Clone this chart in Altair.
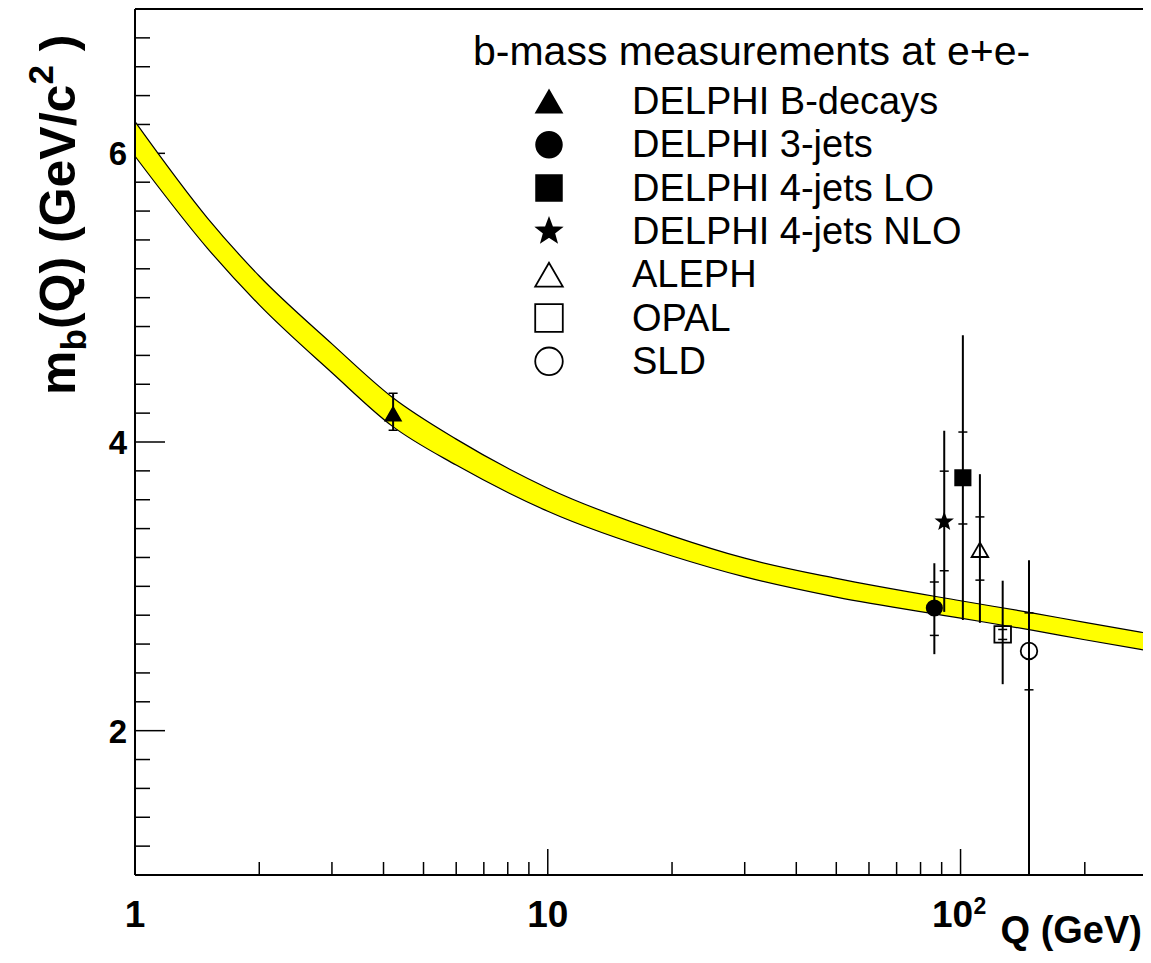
import math
import altair as alt
import pandas as pd

W, H = 1008, 866
FONT = "Liberation Sans"

# ---- running-mass band ----
band_q = [1, 1.5, 2, 3, 4.2, 6, 10, 20, 30, 50, 100, 150, 200, 276.7]
band_upper = [6.22, 5.55, 5.15, 4.68, 4.31, 4.02, 3.68, 3.35, 3.195, 3.055, 2.90, 2.815, 2.75, 2.68]
band_lower = [5.98, 5.34, 4.95, 4.48, 4.11, 3.84, 3.52, 3.21, 3.065, 2.925, 2.78, 2.695, 2.63, 2.56]

# ---- measurements ----
exp_names = ["DELPHI B-decays", "DELPHI 3-jets", "DELPHI 4-jets LO", "DELPHI 4-jets NLO",
             "ALEPH", "OPAL", "SLD"]
exp_q = [4.22, 86.4, 101.3, 91.3, 111.4, 126.5, 146.5]
exp_m = [4.195, 2.85, 3.752, 3.448, 3.253, 2.667, 2.552]
err_out_hi = [4.338, 3.16, 4.740, 4.078, 3.777, 3.039, 3.181]
err_out_lo = [4.081, 2.53, 2.766, 2.823, 2.747, 2.322, 0.8]
err_in_hi = [None, 3.03, 4.069, 3.798, 3.481, 2.701, 2.816]
err_in_lo = [None, 2.66, 3.432, 3.108, 3.043, 2.632, 2.283]
exp_filled = [True, True, True, True, False, False, False]

legend_title = "b-mass measurements at e+e-"

# ---- axis ticks ----
x_major = [1, 10, 100]
x_minor = [2, 3, 4, 5, 6, 7, 8, 9, 20, 30, 40, 50, 60, 70, 80, 90, 200]
x_label_text = ["1", "10", "10"]
y_major = [2, 4, 6]
y_minor = [1.2, 1.4, 1.6, 1.8, 2.2, 2.4, 2.6, 2.8, 3.0, 3.2, 3.4, 3.6, 3.8,
           4.2, 4.4, 4.6, 4.8, 5.0, 5.2, 5.4, 5.6, 5.8, 6.2, 6.4, 6.6, 6.8]


def star_path(outer=1.0, inner=0.42):
    pts = []
    for k in range(10):
        r = outer if k % 2 == 0 else inner
        a = math.radians(-90 + 36 * k)
        pts.append(f"{r * math.cos(a):.3f},{r * math.sin(a):.3f}")
    return "M" + "L".join(pts) + "Z"


shapes = ["triangle-up", "circle", "square", star_path(), "triangle-up", "square", "circle"]

xs = alt.Scale(type="log", domain=[1, 276.7], nice=False)
ys = alt.Scale(domain=[1, 7], nice=False, zero=False, clamp=True)
shape_scale = alt.Scale(domain=exp_names, range=shapes)

band_df = pd.DataFrame({"q": band_q, "hi": band_upper, "lo": band_lower})
exp_df = pd.DataFrame({"name": exp_names, "q": exp_q, "m": exp_m,
                       "ohi": err_out_hi, "olo": err_out_lo,
                       "ihi": err_in_hi, "ilo": err_in_lo,
                       "filled": exp_filled, "idx": list(range(len(exp_names)))})

X = alt.X("q:Q", scale=xs, axis=None)

# ticks (inside the frame)
ytick_major = alt.Chart(pd.DataFrame({"v": y_major})).mark_rule(color="black", strokeWidth=1.5).encode(
    y=alt.Y("v:Q", scale=ys, axis=None), x=alt.value(0), x2=alt.value(30))
ytick_minor = alt.Chart(pd.DataFrame({"v": y_minor})).mark_rule(color="black", strokeWidth=1.5).encode(
    y=alt.Y("v:Q", scale=ys, axis=None), x=alt.value(0), x2=alt.value(15))
xtick_major = alt.Chart(pd.DataFrame({"q": x_major})).mark_rule(color="black", strokeWidth=1.5).encode(
    x=X, y=alt.value(H), y2=alt.value(H - 26))
xtick_minor = alt.Chart(pd.DataFrame({"q": x_minor})).mark_rule(color="black", strokeWidth=1.5).encode(
    x=X, y=alt.value(H), y2=alt.value(H - 13))

# band
band_area = alt.Chart(band_df).mark_area(color="#ffff00", opacity=1, interpolate="monotone").encode(
    x=X, y=alt.Y("hi:Q", scale=ys, axis=None), y2="lo:Q")
band_hi_line = alt.Chart(band_df).mark_line(color="black", strokeWidth=1.2, interpolate="monotone").encode(
    x=X, y=alt.Y("hi:Q", scale=ys, axis=None))
band_lo_line = alt.Chart(band_df).mark_line(color="black", strokeWidth=1.2, interpolate="monotone").encode(
    x=X, y=alt.Y("lo:Q", scale=ys, axis=None))

# error bars
outer_err = alt.Chart(exp_df).mark_rule(color="black", strokeWidth=2).encode(
    x=X, y=alt.Y("olo:Q", scale=ys, axis=None), y2="ohi:Q")
inner_hi = alt.Chart(exp_df).transform_filter("datum.ihi != null").mark_tick(
    orient="horizontal", color="black", size=9, thickness=1.5, opacity=1).encode(
    x=X, y=alt.Y("ihi:Q", scale=ys, axis=None))
inner_lo = alt.Chart(exp_df).transform_filter("datum.ilo != null").mark_tick(
    orient="horizontal", color="black", size=9, thickness=1.5, opacity=1).encode(
    x=X, y=alt.Y("ilo:Q", scale=ys, axis=None))
caps_hi = alt.Chart(exp_df).transform_filter("datum.ihi == null").mark_tick(
    orient="horizontal", color="black", size=9, thickness=1.5, opacity=1).encode(
    x=X, y=alt.Y("ohi:Q", scale=ys, axis=None))
caps_lo = alt.Chart(exp_df).transform_filter("datum.ihi == null").mark_tick(
    orient="horizontal", color="black", size=9, thickness=1.5, opacity=1).encode(
    x=X, y=alt.Y("olo:Q", scale=ys, axis=None))

fill_enc = alt.condition("datum.filled", alt.value("black"), alt.value("transparent"))

points = alt.Chart(exp_df).mark_point(opacity=1, strokeWidth=1.8).encode(
    x=X, y=alt.Y("m:Q", scale=ys, axis=None),
    shape=alt.Shape("name:N", scale=shape_scale, legend=None),
    fill=fill_enc, stroke=alt.value("black"),
    size=alt.condition("datum.filled", alt.value(235), alt.value(275)))

# legend
leg_base = alt.Chart(exp_df).transform_calculate(py="92.5 + 43.3 * datum.idx")
leg_pts = leg_base.mark_point(opacity=1, strokeWidth=1.8).encode(
    x=alt.value(414), y=alt.Y("py:Q", scale=None),
    shape=alt.Shape("name:N", scale=shape_scale, legend=None),
    fill=fill_enc, stroke=alt.value("black"),
    size=alt.condition("datum.filled", alt.value(660), alt.value(760)))
leg_txt = leg_base.mark_text(align="left", baseline="alphabetic", dy=12.5, font=FONT,
                             fontSize=38, color="black").encode(
    x=alt.value(497), y=alt.Y("py:Q", scale=None), text="name:N")
leg_head = alt.Chart(pd.DataFrame({"t": [legend_title]})).mark_text(
    align="left", baseline="alphabetic", font=FONT, fontSize=41, color="black").encode(
    x=alt.value(338), y=alt.value(56), text="t:N")

# tick labels
xlab_df = pd.DataFrame({"q": x_major, "t": x_label_text})
xlabels = alt.Chart(xlab_df).transform_filter("datum.q < 50").mark_text(
    align="center", baseline="alphabetic", font=FONT, fontSize=37, fontWeight="bold",
    color="black").encode(x=X, y=alt.value(H + 52), text="t:N")
xlab100 = alt.Chart(xlab_df).transform_filter("datum.q > 50").mark_text(
    align="center", baseline="alphabetic", font=FONT, fontSize=37, fontWeight="bold",
    color="black", dx=-8).encode(x=X, y=alt.value(H + 52), text="t:N")
xlab_sup = alt.Chart(xlab_df).transform_filter("datum.q > 50").mark_text(
    align="left", baseline="alphabetic", font=FONT, fontSize=23, fontWeight="bold",
    color="black", dx=13).encode(x=X, y=alt.value(H + 39), text=alt.value("2"))
ylabels = alt.Chart(pd.DataFrame({"v": y_major})).mark_text(
    align="right", baseline="alphabetic", font=FONT, fontSize=33, fontWeight="bold",
    color="black", dy=12).encode(x=alt.value(-8), y=alt.Y("v:Q", scale=ys, axis=None),
                                 text=alt.Text("v:Q", format="d"))

# axis titles
xtitle = alt.Chart(pd.DataFrame({"t": ["Q (GeV)"]})).mark_text(
    align="right", baseline="alphabetic", font=FONT, fontSize=38, fontWeight="bold",
    color="black").encode(x=alt.value(W - 1), y=alt.value(H + 68), text="t:N")


def ytitle_piece(txt, size, xpix, ypix):
    return alt.Chart(pd.DataFrame({"t": [txt]})).mark_text(
        align="left", baseline="alphabetic", angle=270, font=FONT, fontSize=size,
        fontWeight="bold", color="black").encode(
        x=alt.value(xpix), y=alt.value(ypix), text="t:N")


ytitle = [
    ytitle_piece("m", 50, -60, 386),
    ytitle_piece("b", 35, -49, 341.5),
    ytitle_piece("(Q) (GeV/c", 50, -60, 320.1),
    ytitle_piece("2", 35, -82, 75.6),
    ytitle_piece(")", 50, -60, 42.2),
]

# frame
frame_bottom = alt.Chart(pd.DataFrame({"a": [0]})).mark_rule(color="black", strokeWidth=2).encode(
    x=alt.value(0), x2=alt.value(W), y=alt.value(H))
frame_top = alt.Chart(pd.DataFrame({"a": [0]})).mark_rule(color="black", strokeWidth=2).encode(
    x=alt.value(0), x2=alt.value(W), y=alt.value(0))
frame_left = alt.Chart(pd.DataFrame({"a": [0]})).mark_rule(color="black", strokeWidth=2).encode(
    x=alt.value(0), y=alt.value(0), y2=alt.value(H))

chart = alt.layer(
    ytick_major, ytick_minor, xtick_major, xtick_minor,
    band_area, band_hi_line, band_lo_line,
    outer_err, inner_hi, inner_lo, caps_hi, caps_lo, points,
    leg_pts, leg_txt, leg_head,
    xlabels, xlab100, xlab_sup, ylabels, xtitle, *ytitle,
    frame_bottom, frame_top, frame_left,
).properties(
    width=W, height=H,
    autosize=alt.AutoSizeParams(type="none"),
    padding={"left": 127, "top": 1, "right": 0, "bottom": 76},
).configure_view(stroke=None).configure(background="white")

chart.save("out.html", embed_options={"renderer": "svg", "actions": False})
